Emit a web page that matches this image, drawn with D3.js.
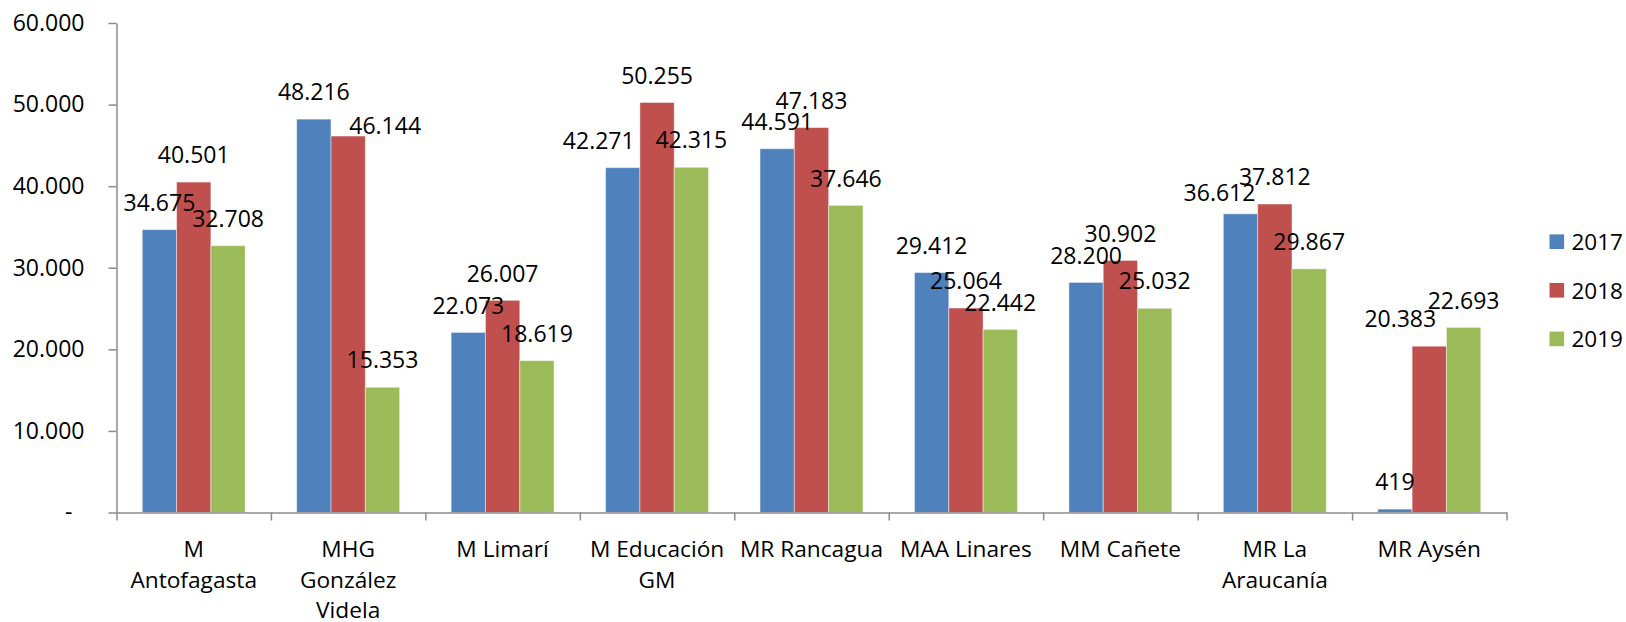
<!DOCTYPE html>
<html>
<head>
<meta charset="UTF-8">
<title>Bar chart 2017-2019</title>
<script src="https://d3js.org/d3.v7.min.js"></script>
<style>
  body { margin: 0; background: #fff; }
  text { font-family: "Open Sans", sans-serif; fill: #000; }
  .axis path, .axis line { stroke: #8c8c8c; stroke-width: 1.5px; }
  .axis text { font-size: 23px; }
  .bar { stroke: #fff; stroke-opacity: 0.45; stroke-width: 1px; }
  .val { font-size: 23px; }
  .cat { font-size: 22.7px; }
  .legend text { font-size: 22.5px; }
</style>
</head>
<body>
<svg id="chart" width="1626" height="622"></svg>
<script>
// data
const categories = ["M\nAntofagasta", "MHG\nGonzález\nVidela", "M Limarí", "M Educación\nGM",
  "MR Rancagua", "MAA Linares", "MM Cañete", "MR La\nAraucanía", "MR Aysén"];
const years = ["2017", "2018", "2019"];
const v2017 = [34675, 48216, 22073, 42271, 44591, 29412, 28200, 36612, 419];
const v2018 = [40501, 46144, 26007, 50255, 47183, 25064, 30902, 37812, 20383];
const v2019 = [32708, 15353, 18619, 42315, 37646, 22442, 25032, 29867, 22693];
const yTicks = [0, 10000, 20000, 30000, 40000, 50000, 60000];
const colors = ["#4F81BD", "#C0504D", "#9BBB59"];

// labels that were dragged by hand in the original: [category, series, dx, dy]
const labelNudges = [[1, 1, 37, 17], [3, 0, -24, 0], [7, 0, -21, 6], [8, 1, -29, 0]];

const series = [v2017, v2018, v2019];
const fmt = d3.formatLocale({decimal: ",", thousands: ".", grouping: [3], currency: ["$", ""]}).format(",");

const plotLeft = 116.5, plotRight = 1506.5, plotTop = 23, plotBottom = 512.5;
const svg = d3.select("#chart");

const x0 = d3.scaleBand().domain(categories).range([plotLeft, plotRight])
    .paddingInner(1 / 3).paddingOuter(1 / 6);
const x1 = d3.scaleBand().domain(years).range([0, x0.bandwidth()]);
const y = d3.scaleLinear().domain([0, 60000]).range([plotBottom, plotTop]);

// bars
const groups = svg.append("g").selectAll("g")
    .data(categories)
    .enter().append("g")
    .attr("transform", d => "translate(" + x0(d) + ",0)");

groups.selectAll("rect")
    .data((d, i) => years.map((yr, s) => ({yr: yr, s: s, c: i, v: series[s][i]})))
    .enter().append("rect")
    .attr("class", "bar")
    .attr("x", d => x1(d.yr))
    .attr("width", x1.bandwidth())
    .attr("y", d => y(d.v))
    .attr("height", d => plotBottom - y(d.v))
    .attr("fill", d => colors[d.s]);

// y axis
const yAxis = svg.append("g")
    .attr("class", "axis")
    .attr("transform", "translate(" + plotLeft + ",0)")
    .call(d3.axisLeft(y).tickValues(yTicks).tickSize(8).tickSizeOuter(0).tickPadding(24)
        .tickFormat(d => d === 0 ? "-" : fmt(d)));
yAxis.selectAll(".tick text").filter(d => d === 0).attr("dx", -12);

// x axis: ticks on category boundaries
const xIdx = d3.scaleLinear().domain([0, categories.length]).range([plotLeft, plotRight]);
svg.append("g")
    .attr("class", "axis")
    .attr("transform", "translate(0," + plotBottom + ")")
    .call(d3.axisBottom(xIdx).tickValues(d3.range(categories.length + 1))
        .tickSize(8).tickSizeOuter(0).tickFormat(""));

// category labels
const cat = svg.append("g").selectAll("text")
    .data(categories)
    .enter().append("text")
    .attr("class", "cat")
    .attr("text-anchor", "middle")
    .attr("x", d => x0(d) + x0.bandwidth() / 2)
    .attr("y", 557);
cat.selectAll("tspan")
    .data(d => d.split("\n"))
    .enter().append("tspan")
    .attr("x", function () { return this.parentNode.getAttribute("x"); })
    .attr("dy", (d, i) => i === 0 ? 0 : 30.5)
    .text(d => d);

// value labels
const labels = [];
categories.forEach((c, i) => years.forEach((yr, s) => {
  let dx = 0, dy = 0;
  labelNudges.forEach(n => { if (n[0] === i && n[1] === s) { dx = n[2]; dy = n[3]; } });
  labels.push({c: c, yr: yr, v: series[s][i], dx: dx, dy: dy});
}));
svg.append("g").selectAll("text")
    .data(labels)
    .enter().append("text")
    .attr("class", "val")
    .attr("text-anchor", "middle")
    .attr("x", d => x0(d.c) + x1(d.yr) + x1.bandwidth() / 2 + d.dx)
    .attr("y", d => y(d.v) - 18.8 + d.dy)
    .text(d => fmt(d.v));

// legend
const legend = svg.append("g").attr("class", "legend");
years.forEach((yr, i) => {
  const cy = 241.7 + i * 48.6;
  legend.append("rect")
      .attr("x", 1549.5).attr("y", cy - 7.3)
      .attr("width", 14.6).attr("height", 14.6)
      .attr("fill", colors[i]);
  legend.append("text")
      .attr("x", 1571.5).attr("y", cy + 8.2)
      .text(yr);
});
</script>
</body>
</html>
